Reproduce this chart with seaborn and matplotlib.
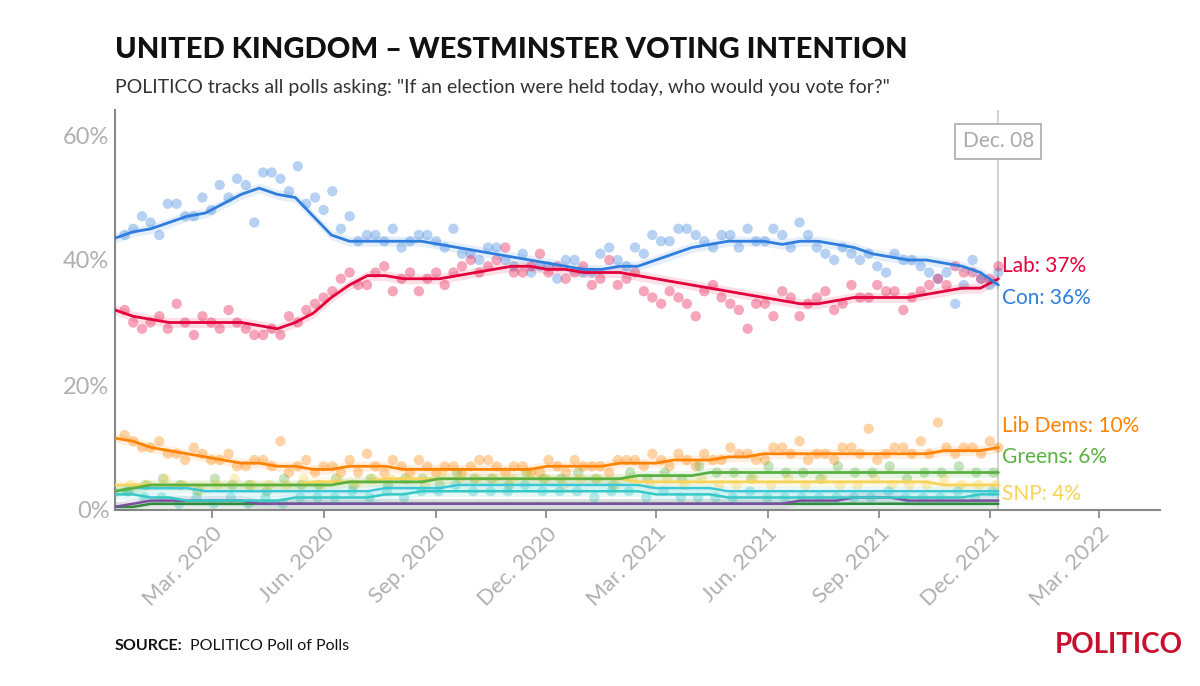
import matplotlib
matplotlib.use("Agg")
import matplotlib.pyplot as plt
import seaborn as sns
import pandas as pd

sns.set_theme(style="white")
plt.rcParams['font.family'] = ['Lato', 'DejaVu Sans']

# Trend values (half-monthly from 2019-12-12 to 2021-12-08)
trend_start = "2019-12-12"
con_trend = [43.5,44.5,45,46,47,47.5,49,50.5,51.5,50.5,50,47,44,43,43,43,43,43,42.5,42,41.5,41,40.5,40,39.5,39,38.5,38.5,39,39,40,41,42,42.5,43,43,43,42.5,43,43,42.5,42,41,40.5,40,40,39.5,39,38,36]
lab_trend = [32,31,30.5,30,30,30,30,30,29.5,29,30,31.5,34,36,37.5,37.5,37,37,37,37.5,38,38.5,39,39,38.5,38.5,38,38,38,37.5,37,36.5,36,35.5,35,34.5,34,33.5,33,33,33.5,34,34,34,34,34.5,35,35.5,35.5,37]
ld_trend = [11.5,11,10,9.5,9,8.5,8,7.5,7.5,7,7,6.5,6.5,7,7,7,6.5,6.5,6.5,6.5,6.5,6.5,6.5,6.5,7,7,7,7,7.5,7.5,7.5,8,8,8,8.5,8.5,9,9,9,9,9,9,9,9,9,9,9.5,9.5,9.5,10]
grn_trend = [3,3.5,4,4,4,4,4,4,4,4,4,4,4,4.5,4.5,4.5,4.5,4.5,5,5,5,5,5,5,5,5,5,5,5,5.5,5.5,5.5,5.5,6,6,6,6,6,6,6,6,6,6,6,6,6,6,6,6,6]
snp_trend = [4,4,4,4,4,4,4,4,4,4,4,4.5,4.5,4.5,4.5,5,5,5,5,5,5,5,5,5,5,5,5,5,5,4.5,4.5,4.5,4.5,4.5,4.5,4.5,4.5,4.5,4.5,4.5,4.5,4.5,4.5,4.5,4.5,4.5,4,4,4,4]
brx_trend = [2.5,2.5,2,2,1.5,1.5,1.5,1.5,1.5,1.5,2,2,2,2,2,2.5,2.5,3,3,3,3,3,3,3,3,3,3,3,3,3,2.5,2.5,2.5,2.5,2,2,2,2,2,2,2,2,2,2,2,2,2,2,2.5,2.5]
ref_trend = [3,3.5,3.5,3.5,3.5,3,3,3,3,3,3,3,3,3,3,3.5,3.5,3.5,3.5,4,4,4,4,4,4,4,4,4,4,4,3.5,3.5,3.5,3.5,3,3,3,3,3,3,3,3,3,3,3,3,3,3,3,3]
ukip_trend = [0.5,1,1.5,1.5,1.5,1.5,1.5,1.5,1,1,1,1,1,1,1,1,1,1,1,1,1,1,1,1,1,1,1,1,1,1,1,1,1,1,1,1,1,1,1.5,1.5,1.5,2,2,2,1.5,1.5,1.5,1.5,1.5,1.5]
pc_trend = [0.5,0.5,1,1,1,1,1,1,1,1,1,1,1,1,1,1,1,1,1,1,1,1,1,1,1,1,1,1,1,1,1,1,1,1,1,1,1,1,1,1,1,1,1,1,1,1,1,1,1,1]

# Poll values (roughly fortnightly, two sets offset by a week)
con_polls_a = [44,47,44,49,47,48,50,52,54,53,55,50,51,47,44,43,42,44,43,45,41,42,40,41,39,37,40,38,42,39,41,43,45,44,42,44,45,43,44,46,42,40,41,41,38,40,39,37,33,40,36]
con_polls_b = [45,46,49,47,50,52,53,46,54,51,49,48,45,43,44,45,43,44,42,41,40,42,39,38,39,40,38,41,40,42,44,43,45,43,44,42,43,45,42,44,41,42,40,39,41,40,38,38,36,37,38]
lab_polls_a = [32,29,31,33,28,30,32,29,28,28,30,33,35,38,36,39,37,35,38,38,40,39,42,38,41,39,38,36,40,37,35,33,34,31,36,33,29,33,35,31,34,32,36,34,35,32,35,37,39,38,37]
lab_polls_b = [30,30,29,30,31,29,30,28,29,31,32,34,37,36,38,35,38,37,36,39,38,40,38,39,38,37,39,37,36,38,34,35,33,35,34,32,33,31,34,33,35,33,34,36,35,34,36,36,38,37,39]
ld_polls_a = [12,10,11,9,10,8,9,7,8,11,7,6,7,8,9,6,7,8,6,7,7,8,6,7,6,7,8,7,6,8,7,8,9,7,8,10,9,8,10,11,9,8,10,13,9,10,11,14,9,10,11]
ld_polls_b = [11,10,9,8,9,8,7,8,7,6,8,7,6,6,7,8,6,7,7,6,8,7,7,6,8,6,7,7,8,8,9,7,8,9,8,9,8,10,9,8,9,10,9,8,10,9,9,10,10,9,10]
grn_polls = [3,4,5,4,3,5,4,4,3,5,4,4,5,4,5,4,5,5,4,6,5,5,4,6,5,5,6,5,4,6,5,6,5,7,6,6,5,7,6,6,5,7,6,6,7,5,6,6,7,6,6]
snp_polls = [4,4,5,4,3,4,5,4,4,4,5,4,5,4,5,5,5,4,6,5,5,5,5,6,5,4,5,5,4,5,4,5,4,5,4,4,5,4,5,4,5,4,4,5,4,4,4,5,4,4,4]
brx_polls = [3,2,2,1,2,1,2,1,2,1,2,2,2,3,2,3,2,3,3,4,3,3,3,4,3,3,3,2,3,3,2,3,2,2,2,2,3,2,2,2,2,2,2,2,3,2,2,2,3,2,3]

labels = ["Lab: 37%", "Con: 36%", "Lib Dems: 10%", "Greens: 6%", "SNP: 4%"]
label_y = [39, 34, 13.5, 8.5, 2.5]
ticks = ["2020-03-01","2020-06-01","2020-09-01","2020-12-01","2021-03-01","2021-06-01","2021-09-01","2021-12-01","2022-03-01"]
tick_labels = ["Mar. 2020","Jun. 2020","Sep. 2020","Dec. 2020","Mar. 2021","Jun. 2021","Sep. 2021","Dec. 2021","Mar. 2022"]

C = dict(con="#2f7ddc", lab="#e4003b", ld="#ff8200", grn="#5ab142", snp="#f7d35a",
         brx="#36c9c6", ref="#3cc7d6", ukip="#7b4f9e", pc="#2e8b3a")

fig = plt.figure(figsize=(12, 6.86), dpi=100)
ax = fig.add_axes([115/1200, 1-510/686, (1160-115)/1200, (510-110)/686])

end = pd.Timestamp("2021-12-08")
def tdates(n):
    return pd.date_range(trend_start, end, periods=n)
def pdates(n, off):
    return pd.date_range(pd.Timestamp("2019-12-20")+pd.Timedelta(days=off), pd.Timestamp("2021-12-04")+pd.Timedelta(days=off-3), periods=n)

scat = [(con_polls_a,0,"con"),(con_polls_b,7,"con"),(lab_polls_a,0,"lab"),(lab_polls_b,7,"lab"),
        (ld_polls_a,0,"ld"),(ld_polls_b,7,"ld"),(grn_polls,3,"grn"),(snp_polls,5,"snp"),(brx_polls,2,"brx")]
for vals, off, k in scat:
    sns.scatterplot(x=pdates(len(vals), off), y=vals, color=C[k], alpha=0.35, s=55, edgecolor="none", ax=ax, zorder=2)

for vals, k, lw in [(pc_trend,"pc",1.8),(ukip_trend,"ukip",1.8),(brx_trend,"brx",1.8),(ref_trend,"ref",1.8),
                    (snp_trend,"snp",2),(grn_trend,"grn",2),(ld_trend,"ld",2),(lab_trend,"lab",2),(con_trend,"con",2)]:
    d = tdates(len(vals))
    ax.fill_between(d, [v-0.8 for v in vals], [v+0.8 for v in vals], color=C[k], alpha=0.12, lw=0, zorder=3)
    sns.lineplot(x=d, y=vals, color=C[k], lw=lw, ax=ax, zorder=4)

ax.axvline(end, color="#cccccc", lw=1.2, zorder=1)
ax.text(end, 59, "Dec. 08", ha="center", va="center", fontsize=15, color="#aaaaaa",
        bbox=dict(boxstyle="square,pad=0.35", fc="white", ec="#aaaaaa", lw=1.2))

for t, y, k in zip(labels, label_y, ["lab","con","ld","grn","snp"]):
    ax.text(end + pd.Timedelta(days=3), y, t, color=C[k], fontsize=15, va="center", ha="left")

ax.set_xlim(pd.Timestamp("2019-12-12"), pd.Timestamp("2022-04-20"))
ax.set_ylim(0, 64)
ax.set_yticks([0,20,40,60])
ax.set_yticklabels(["0%","20%","40%","60%"], fontsize=17, color="#b0b0b0")
ax.set_xticks([pd.Timestamp(t) for t in ticks])
ax.set_xticklabels(tick_labels, rotation=45, ha="right", rotation_mode="anchor", fontsize=16, color="#b0b0b0")
ax.tick_params(axis="x", length=6, color="#888888", direction="out", bottom=True)
ax.tick_params(axis="y", length=0, pad=4)
for s in ["top","right"]:
    ax.spines[s].set_visible(False)
ax.spines["left"].set_color("#888888"); ax.spines["bottom"].set_color("#888888")
ax.spines["left"].set_linewidth(1.5); ax.spines["bottom"].set_linewidth(1.5)
ax.set_xlabel(""); ax.set_ylabel("")
ax.grid(False)

fig.text(115/1200, 1-50/686, "UNITED KINGDOM – WESTMINSTER VOTING INTENTION", fontsize=21, fontweight="black", va="center", color="#111111")
fig.text(115/1200, 1-87/686, 'POLITICO tracks all polls asking: "If an election were held today, who would you vote for?"', fontsize=14, va="center", color="#333333")
fig.text(115/1200, 1-646/686, "SOURCE:", fontsize=11.5, fontweight="bold", va="center", color="#111111")
fig.text(190/1200, 1-646/686, "POLITICO Poll of Polls", fontsize=11.5, va="center", color="#111111")
fig.text(1183/1200, 1-645/686, "POLITICO", fontsize=20, fontweight="bold", va="center", ha="right", color="#c8102e")

fig.savefig("out.png", dpi=100, facecolor="white")
